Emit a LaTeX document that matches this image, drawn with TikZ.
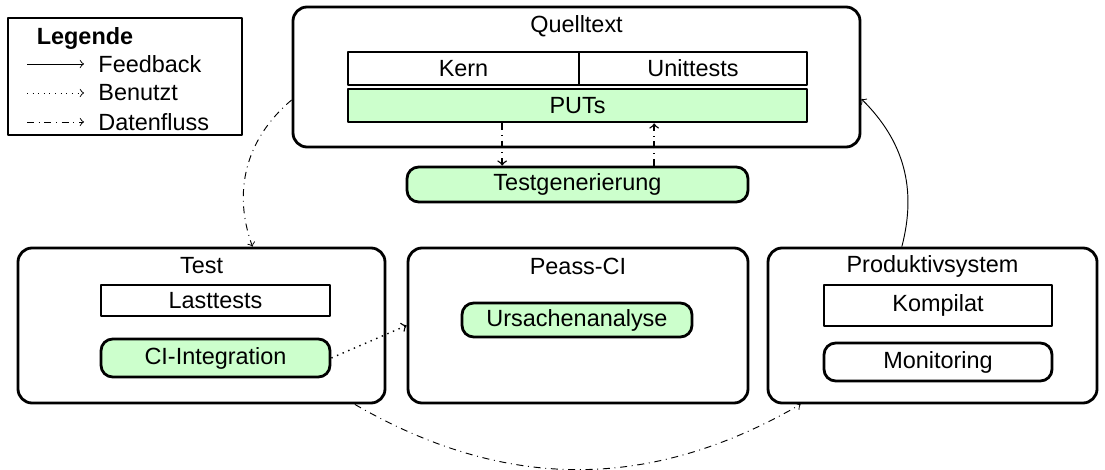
\documentclass[tikz,border=0pt]{standalone}
\usepackage{fontspec}
\setmainfont{Liberation Sans}
\begin{document}
\begin{tikzpicture}[font=\normalsize, line join=round, >=to,
	rahmen/.style={draw, very thick, rounded corners=6pt, minimum width=#1, minimum height=2.325cm},
	teil/.style={draw, very thick, minimum width=#1, inner sep=0pt},
	werkzeug/.style={draw, very thick, rounded corners=5pt, fill=green!20, minimum width=#1, inner sep=0pt},
	daten/.style={->, dash dot},
	benutzt/.style={->, dotted}]
				\useasboundingbox (0,0) rectangle (16.575,-7.05);
				\node[rahmen=8.505cm, minimum height=2.1cm] (quelle) at (8.6475,-1.155) {};
				\node (quelleT) at (8.6475,-0.39) {Quelltext};
				\node[teil=3.465cm, minimum height=0.495cm] (kern) at (6.9525,-1.0275) {Kern};
				\node[teil=3.42cm, minimum height=0.495cm] (unit) at (10.395,-1.0275) {Unittests};
				\node[teil=6.885cm, minimum height=0.495cm, fill=green!20] (puts) at (8.6625,-1.5825) {PUTs};
				\node[werkzeug=5.115cm, minimum height=0.525cm] (tg) at (8.6625,-2.7675) {Testgenerierung};
				
				\node[rahmen=5.505cm] (test) at (3.0225,-4.8825) {};
				\node (testT) at (3.0225,-3.99) {Test};
				\node[teil=3.435cm, minimum height=0.465cm] (last) at (3.2325,-4.5075) {Lasttests};
				\node[werkzeug=3.435cm, minimum height=0.57cm] (ci) at (3.2325,-5.37) {CI-Integration};
				
				\node[rahmen=5.1cm] (peass) at (8.67,-4.8825) {};
				\node (peassT) at (8.67,-3.99) {Peass-CI};
				\node[werkzeug=3.45cm, minimum height=0.51cm] (ursache) at (8.655,-4.8) {Ursachenanalyse};
				
				\node[rahmen=4.935cm] (prod) at (13.9875,-4.8825) {};
				\node (prodT) at (13.9875,-3.99) {Produktivsystem};
				\node[teil=3.42cm, minimum height=0.615cm] (kompilat) at (14.07,-4.5825) {Kompilat};
				\node[teil=3.42cm, minimum height=0.57cm, rounded corners=5pt] (mon) at (14.07,-5.43) {Monitoring};
				
				\node[draw, thick, minimum width=3.51cm, minimum height=1.755cm] (leg) at (1.875,-1.1475) {};
				\node[font=\bfseries] (legT) at (1.275,-0.57) {Legende};
				\node[anchor=west, inner sep=0pt] (fb) at (1.47,-0.96) {Feedback};
				\node[anchor=west, inner sep=0pt] (bn) at (1.47,-1.395) {Benutzt};
				\node[anchor=west, inner sep=0pt] (df) at (1.47,-1.83) {Datenfluss};
				\coordinate (fbA) at (0.405,-0.96);
				\coordinate (bnA) at (0.405,-1.395);
				\coordinate (dfA) at (0.405,-1.83);
				\draw[->] (fbA) -- ([xshift=-0.21cm]fb.west);
				\draw[benutzt] (bnA) -- ([xshift=-0.21cm]bn.west);
				\draw[daten] (dfA) -- ([xshift=-0.21cm]df.west);
				
				\draw[daten] ([yshift=-0.345cm]quelle.west) to[bend right=35] ([xshift=0.765cm]test.north);
				\draw[daten, semithick] ([xshift=-1.13cm]puts.south) -- ([xshift=-1.13cm]tg.north);
				\draw[daten, semithick] ([xshift=1.15cm]tg.north) -- ([xshift=1.15cm]puts.south);
				\draw[benutzt, semithick] (ci.east) -- (peass.west);
				\draw[daten] ([xshift=2.3cm]test.south) to[bend right=30] ([xshift=-1.98cm]prod.south);
				\draw[->] ([xshift=-0.46cm]prod.north) to[bend right=30] ([yshift=-0.33cm]quelle.east);
			\end{tikzpicture}
\end{document}
